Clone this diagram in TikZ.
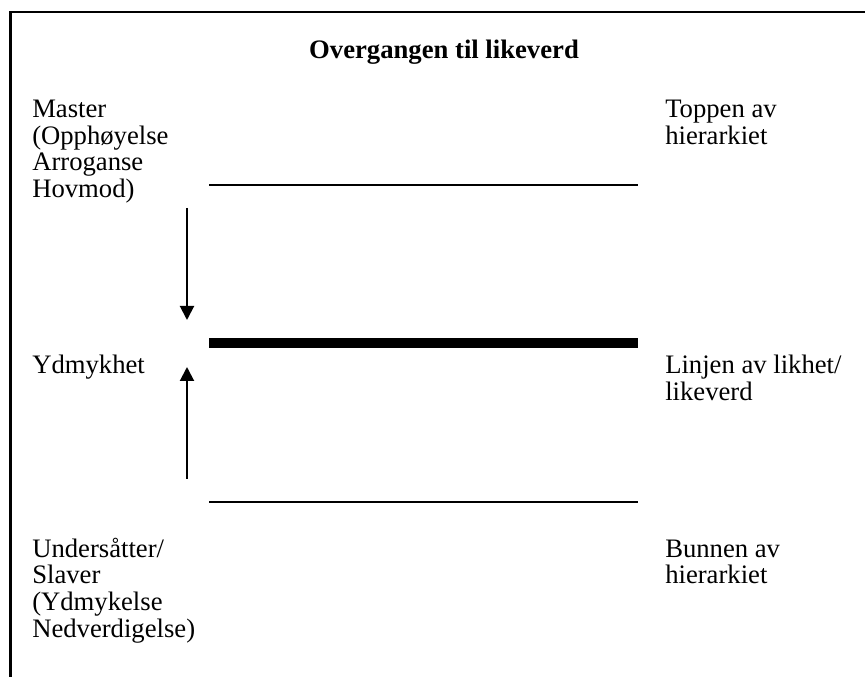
\documentclass[tikz,border=0pt]{standalone}
\usepackage{fontspec}
\setmainfont{Liberation Serif}
\usetikzlibrary{arrows.meta}

\tikzset{
  txt/.style={anchor=base west, align=left, inner sep=0pt, font=\fontsize{20}{19.9}\selectfont},
  thinline/.style={line width=1.5pt},
  thickline/.style={line width=7.5pt},
  pil/.style={line width=1.5pt, -{Triangle[width=10.5pt,length=10.5pt]}}
}

\begin{document}
\begin{tikzpicture}[x=0.75pt,y=0.75pt,yscale=-1,xscale=1]
\useasboundingbox (0,0) rectangle (865,677);

%Frame
\draw [line width=1.9pt]   (10.5,690) -- (10.5,12) -- (880,12) ;

% Title Node
\node (title) at (444,59) [txt, anchor=base, font=\fontsize{20}{19.9}\selectfont\bfseries] {Overgangen til likeverd};

% Text Nodes left (anchored at the baseline of the last line)
\node (master) at (32,197.5) [txt] {Master\\(Opphøyelse\\Arroganse\\Hovmod)};
\node (ydmykhet) at (32,374) [txt] {Ydmykhet};
\node (undersaatter) at (32,637) [txt] {Undersåtter/\\Slaver\\(Ydmykelse\\Nedverdigelse)};

% Text Nodes right
\node (toppen) at (665,144.5) [txt] {Toppen av\\hierarkiet};
\node (linjen) at (665,400.5) [txt] {Linjen av likhet/\\likeverd};
\node (bunnen) at (665,584) [txt] {Bunnen av\\hierarkiet};

%Straight Lines
\draw [thinline]   (209,185) -- (638,185) ;
\draw [thickline]  (209,343) -- (638,343) ;
\draw [thinline]   (209,502) -- (638,502) ;

%Arrows
\coordinate (downstart) at (187,208);
\coordinate (downend) at (187,320);
\coordinate (upstart) at (187,479);
\coordinate (upend) at (187,367);
\draw [pil]   (downstart) -- (downend) ;
\draw [pil]   (upstart) -- (upend) ;

\end{tikzpicture}
\end{document}
